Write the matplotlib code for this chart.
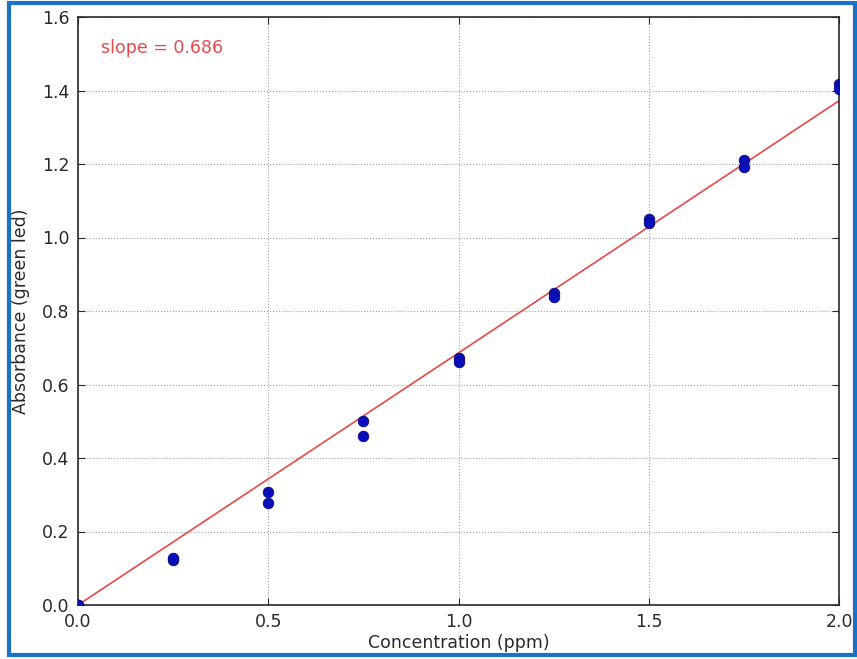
import matplotlib
matplotlib.use("Agg")
import matplotlib.pyplot as plt
from matplotlib.patches import Rectangle

# Calibration data: two replicate absorbance readings per standard
concentration = [0.0, 0.0, 0.25, 0.25, 0.5, 0.5, 0.75, 0.75, 1.0, 1.0,
                 1.25, 1.25, 1.5, 1.5, 1.75, 1.75, 2.0, 2.0]
absorbance = [0.0, 0.0, 0.122, 0.128, 0.307, 0.278, 0.50, 0.46, 0.672, 0.661,
              0.849, 0.838, 1.050, 1.039, 1.211, 1.192, 1.418, 1.404]
slope = 0.686
fit_x = [0.0, 2.0]

x_ticks = [0.0, 0.5, 1.0, 1.5, 2.0]
y_ticks = [0.0, 0.2, 0.4, 0.6, 0.8, 1.0, 1.2, 1.4, 1.6]

fig = plt.figure(figsize=(8.57, 6.59), dpi=100)
ax = fig.add_axes([78 / 857, 1 - 605 / 659, (839 - 78) / 857, (605 - 17) / 659])

ax.plot(concentration, absorbance, 'o', color='#0710bc', markersize=7.6,
        markeredgecolor='#08087a', markeredgewidth=0.6, zorder=3, clip_on=True)
ax.plot(fit_x, [slope * v for v in fit_x], '-', color='#e8484a', linewidth=1.2, zorder=2)

ax.set_xlim(0, 2.0)
ax.set_ylim(0, 1.6)
ax.set_xticks(x_ticks)
ax.set_yticks(y_ticks)
ax.set_xticklabels([f"{v:.1f}" for v in x_ticks])
ax.set_yticklabels([f"{v:.1f}" for v in y_ticks])
ax.tick_params(direction='in', length=5, width=0.8, labelsize=12.5, colors='#2a2a2a',
               top=True, right=True, pad=6)
ax.grid(True, linestyle=':', color='#a0a0a0', linewidth=0.8)
for s in ax.spines.values():
    s.set_color('#2a2a2a')
    s.set_linewidth(1.2)

ax.set_xlabel("Concentration (ppm)", fontsize=12.5, color='#2a2a2a', labelpad=2)
ax.set_ylabel("Absorbance (green led)", fontsize=12.5, color='#2a2a2a', labelpad=9)

ax.text(0.06, 1.515, f"slope = {slope}", color='#e8484a', fontsize=12.5,
        va='center', ha='left')

# Blue border around the figure
fig.patches.append(Rectangle((9 / 857, 4 / 659), 846 / 857, 652 / 659,
                             transform=fig.transFigure, fill=False,
                             edgecolor='#1a72c4', linewidth=3))

fig.savefig("out.png", dpi=100)
